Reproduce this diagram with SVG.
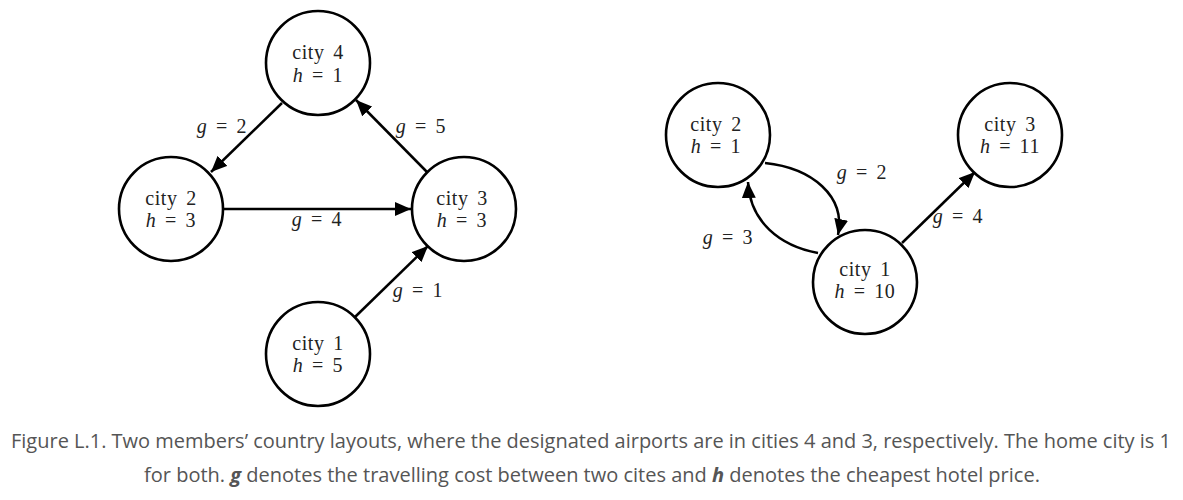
<svg xmlns="http://www.w3.org/2000/svg" width="1183" height="500" viewBox="0 0 1183 500">
<style>
.node circle{fill:#fff;stroke:#000;stroke-width:2.6}
.nt{font-family:"Liberation Serif","DejaVu Serif",serif;font-size:20px;letter-spacing:0.6px;fill:#222;text-anchor:middle;word-spacing:3px}
.lbl{font-family:"Liberation Serif","DejaVu Serif",serif;font-size:20px;letter-spacing:0.6px;fill:#222;text-anchor:middle;word-spacing:3px}
.i{font-style:italic}
.edge{fill:none;stroke:#000;stroke-width:2.5;marker-end:url(#ah)}
.cap{font-family:"Open Sans",sans-serif;font-size:20px;fill:#555;text-anchor:middle}
</style>
<defs>
<marker id="ah" markerUnits="userSpaceOnUse" markerWidth="18" markerHeight="14" refX="16" refY="7" orient="auto">
<path d="M0,0 L16,7 L0,14 Z" fill="#000"/>
</marker>
</defs>
<rect width="1183" height="500" fill="#fff"/>
<g id="connectors">
<line class="edge" x1="282" y1="103" x2="211" y2="172"/>
<line class="edge" x1="427" y1="172" x2="356" y2="100"/>
<line class="edge" x1="224" y1="209" x2="411" y2="209"/>
<line class="edge" x1="355" y1="317" x2="428" y2="246"/>
<path class="edge" d="M765,163 C812,168 846,196 838,235"/>
<path class="edge" d="M818,253 C780,246 750,222 748,182"/>
<line class="edge" x1="902" y1="243" x2="975" y2="172"/>
<text class="lbl" x="222" y="133"><tspan class="i">g</tspan> = 2</text>
<text class="lbl" x="421" y="133"><tspan class="i">g</tspan> = 5</text>
<text class="lbl" x="317" y="226"><tspan class="i">g</tspan> = 4</text>
<text class="lbl" x="418" y="297"><tspan class="i">g</tspan> = 1</text>
<text class="lbl" x="862" y="179"><tspan class="i">g</tspan> = 2</text>
<text class="lbl" x="728" y="244"><tspan class="i">g</tspan> = 3</text>
<text class="lbl" x="958" y="223"><tspan class="i">g</tspan> = 4</text>
</g>
<g id="L4" class="node"><circle cx="318" cy="63" r="52"/><text class="nt" x="318" y="59">city 4</text><text class="nt" x="318" y="82"><tspan class="i">h</tspan> = 1</text></g>
<g id="L2" class="node"><circle cx="171" cy="209" r="52"/><text class="nt" x="171" y="205">city 2</text><text class="nt" x="171" y="227"><tspan class="i">h</tspan> = 3</text></g>
<g id="L3" class="node"><circle cx="464" cy="209" r="52"/><text class="nt" x="462" y="205">city 3</text><text class="nt" x="462" y="227"><tspan class="i">h</tspan> = 3</text></g>
<g id="L1" class="node"><circle cx="318" cy="354" r="52"/><text class="nt" x="318" y="350">city 1</text><text class="nt" x="318" y="372"><tspan class="i">h</tspan> = 5</text></g>
<g id="R2" class="node"><circle cx="718" cy="135" r="52"/><text class="nt" x="716" y="131">city 2</text><text class="nt" x="716" y="153"><tspan class="i">h</tspan> = 1</text></g>
<g id="R3" class="node"><circle cx="1010" cy="135" r="52"/><text class="nt" x="1010" y="131">city 3</text><text class="nt" x="1010" y="153"><tspan class="i">h</tspan> = 11</text></g>
<g id="R1" class="node"><circle cx="865" cy="282" r="52"/><text class="nt" x="865" y="276">city 1</text><text class="nt" x="865" y="298"><tspan class="i">h</tspan> = 10</text></g>
<text class="cap" x="591" y="448" textLength="1160" lengthAdjust="spacingAndGlyphs">Figure L.1. Two members’ country layouts, where the designated airports are in cities 4 and 3, respectively. The home city is 1</text>
<text class="cap" x="592" y="482">for both. <tspan font-weight="bold" font-style="italic">g</tspan> denotes the travelling cost between two cites and <tspan font-weight="bold" font-style="italic">h</tspan> denotes the cheapest hotel price.</text>
</svg>
